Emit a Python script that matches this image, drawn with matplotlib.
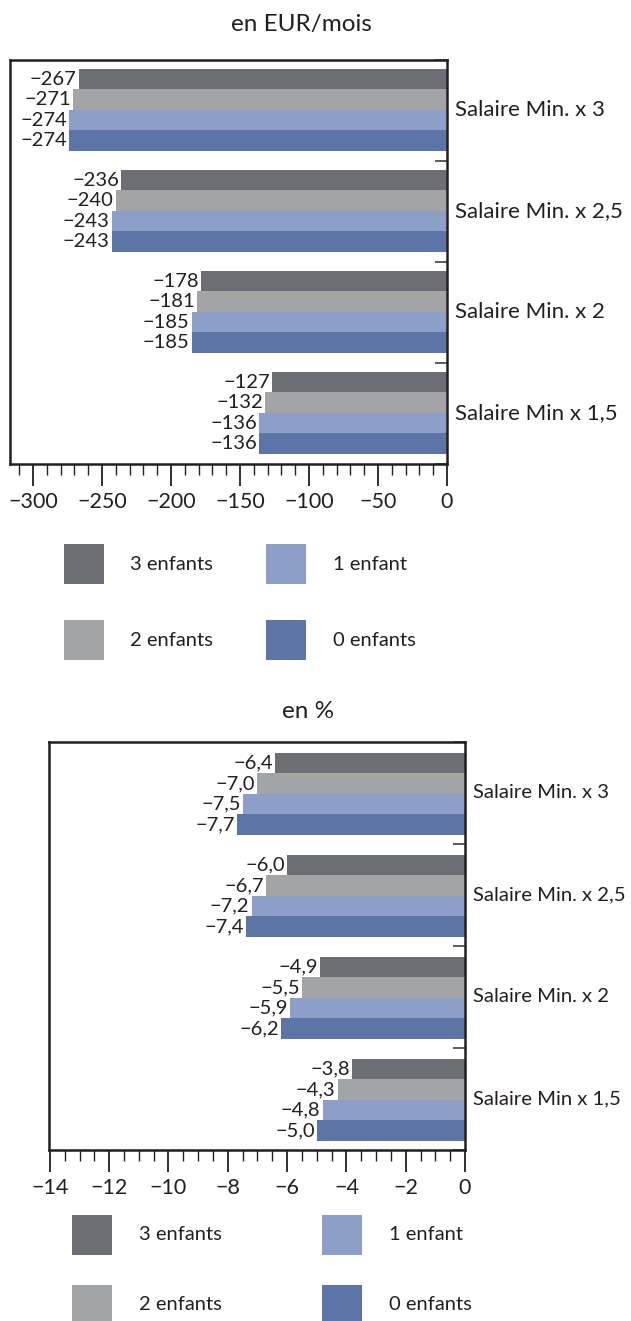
import numpy as np
import matplotlib
matplotlib.use("Agg")
import matplotlib.pyplot as plt
from matplotlib.patches import Rectangle
from matplotlib.ticker import MultipleLocator

plt.rcParams['font.family'] = ['Lato', 'DejaVu Sans']

# --------------------------
# Data
# --------------------------
categories = ["Salaire Min. x 3", "Salaire Min. x 2,5", "Salaire Min. x 2", "Salaire Min x 1,5"]
series = ["3 enfants", "2 enfants", "1 enfant", "0 enfants"]
colors = ["#6d6e73", "#a3a4a6", "#8c9fc9", "#5d74a6"]

# EUR per month, one list per series, same order as categories
eur_3 = [-267, -236, -178, -127]
eur_2 = [-271, -240, -181, -132]
eur_1 = [-274, -243, -185, -136]
eur_0 = [-274, -243, -185, -136]

# percent
pct_3 = [-6.4, -6.0, -4.9, -3.8]
pct_2 = [-7.0, -6.7, -5.5, -4.3]
pct_1 = [-7.5, -7.2, -5.9, -4.8]
pct_0 = [-7.7, -7.4, -6.2, -5.0]

TXT = "#231f20"
FS = 14.5        # value labels, legend
FS_TICK = 15.5
FS_TITLE = 17.5
W, H = 631, 1321


def px_axes(fig, left, top, right, bottom):
    return fig.add_axes([left / W, 1 - bottom / H, (right - left) / W, (bottom - top) / H])


def fmt_eur(v):
    return "\u2212%d" % abs(v)


def fmt_pct(v):
    return ("\u2212%.1f" % abs(v)).replace(".", ",")


def draw_panel(ax, data, fmt, xlim, major, minor, offset, bar_h, cat_fs):
    n = len(categories)
    for j, (vals, col) in enumerate(zip(data, colors)):
        y = np.arange(n) + offset + bar_h * j + bar_h / 2
        ax.barh(y, vals, height=bar_h, color=col, linewidth=0, zorder=2)
        for yy, v in zip(y, vals):
            ax.annotate(fmt(v), (v, yy), xytext=(-1.5, 0), textcoords="offset points",
                        ha="right", va="center", fontsize=FS, color=TXT, zorder=4,
                        bbox=dict(boxstyle="square,pad=0.02", fc="white", ec="none"))
    ax.set_xlim(*xlim)
    ax.set_ylim(n, 0)
    ax.xaxis.set_major_locator(MultipleLocator(major))
    ax.xaxis.set_minor_locator(MultipleLocator(minor))
    ax.xaxis.set_major_formatter(plt.FuncFormatter(
        lambda v, p: "0" if abs(v) < 1e-9 else ("\u2212%g" % abs(v))))
    ax.tick_params(axis="x", which="major", length=16, width=1.3, color=TXT,
                   labelsize=FS_TICK, labelcolor=TXT, pad=4)
    ax.tick_params(axis="x", which="minor", length=8, width=1.0, color=TXT)
    # group separators on the right spine
    ax.yaxis.tick_right()
    ax.set_yticks(np.arange(n + 1))
    ax.set_yticklabels([])
    ax.tick_params(axis="y", direction="in", length=9, width=1.2, color="#404040")
    for k, c in enumerate(categories):
        ax.annotate(c, (1, k + 0.5), xycoords=("axes fraction", "data"),
                    xytext=(6, 0), textcoords="offset points",
                    ha="left", va="center", fontsize=cat_fs, color=TXT)
    for s in ax.spines.values():
        s.set_linewidth(1.8)
        s.set_color(TXT)


def draw_legend(fig, x1, x2, y1, y2, tx1, tx2, size=40):
    spots = [(x1, y1, tx1), (x1, y2, tx1), (x2, y1, tx2), (x2, y2, tx2)]
    for (x, y, tx), lab, col in zip(spots, series, colors):
        fig.add_artist(Rectangle((x / W, 1 - (y + size) / H), size / W, size / H,
                                 transform=fig.transFigure, color=col, lw=0))
        fig.text(tx / W, 1 - (y + size / 2) / H, lab, ha="left", va="center",
                 fontsize=FS, color=TXT)


fig = plt.figure(figsize=(W / 100, H / 100), dpi=100)

ax1 = px_axes(fig, 10, 60, 447, 464)
draw_panel(ax1, [eur_3, eur_2, eur_1, eur_0], fmt_eur, (-316.7, 0), 50, 10,
           0.089, 0.203, 16)
fig.text(301 / W, 1 - 25 / H, "en EUR/mois", ha="center", va="center",
         fontsize=FS_TITLE, color=TXT)
draw_legend(fig, 64, 266, 544, 620, 130, 333)

ax2 = px_axes(fig, 49, 742, 465, 1150)
draw_panel(ax2, [pct_3, pct_2, pct_1, pct_0], fmt_pct, (-14.03, 0), 2, 0.5,
           0.108, 0.2, 14.6)
fig.text(308 / W, 1 - 712 / H, "en %", ha="center", va="center",
         fontsize=FS_TITLE, color=TXT)
draw_legend(fig, 72, 322, 1215, 1285, 139, 389)

fig.savefig("out.png", dpi=100)
